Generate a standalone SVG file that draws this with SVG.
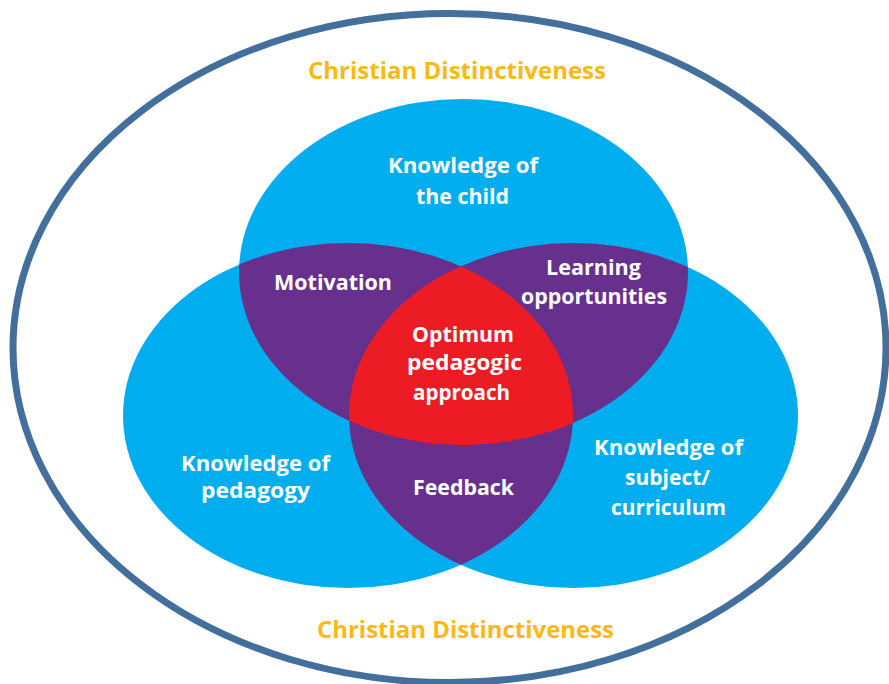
<svg xmlns="http://www.w3.org/2000/svg" width="889" height="684" viewBox="0 0 889 684">
  <style>
    .circle { fill: #00ADEE; }
    .lens { fill: #67308D; }
    .core { fill: #ED1C24; }
    .lbl { font-family: "Open Sans", "Liberation Sans", sans-serif; font-weight: 700; font-size: 22px; fill: #FFFFFF; text-anchor: middle; }
    .gold { font-family: "Open Sans", "Liberation Sans", sans-serif; font-weight: 700; font-size: 23.5px; fill: #FDB813; text-anchor: middle; }
  </style>
  <defs>
    <clipPath id="clipT"><ellipse cx="463.5" cy="272" rx="224.5" ry="173"/></clipPath>
    <clipPath id="clipL"><ellipse cx="348" cy="415.5" rx="225" ry="172.5"/></clipPath>
    <clipPath id="clipR"><ellipse cx="573.5" cy="415.5" rx="224.5" ry="172.5"/></clipPath>
  </defs>
  <rect width="889" height="684" fill="#FFFFFF"/>

  <g id="outer">
    <ellipse cx="449.5" cy="348" rx="436.5" ry="334.5" fill="none" stroke="#436F9C" stroke-width="7"/>
    <text class="gold" x="457" y="79" textLength="298" lengthAdjust="spacingAndGlyphs">Christian Distinctiveness</text>
    <text class="gold" x="465.5" y="638" textLength="297" lengthAdjust="spacingAndGlyphs">Christian Distinctiveness</text>
  </g>

  <g id="child">
    <ellipse class="circle" cx="463.5" cy="272" rx="224.5" ry="173"/>
  </g>
  <g id="pedagogy">
    <ellipse class="circle" cx="348" cy="415.5" rx="225" ry="172.5"/>
  </g>
  <g id="subject">
    <ellipse class="circle" cx="573.5" cy="415.5" rx="224.5" ry="172.5"/>
  </g>

  <g id="motivation">
    <g clip-path="url(#clipT)"><ellipse class="lens" cx="348" cy="415.5" rx="225" ry="172.5"/></g>
  </g>
  <g id="learning">
    <g clip-path="url(#clipT)"><ellipse class="lens" cx="573.5" cy="415.5" rx="224.5" ry="172.5"/></g>
  </g>
  <g id="feedback">
    <g clip-path="url(#clipL)"><ellipse class="lens" cx="573.5" cy="415.5" rx="224.5" ry="172.5"/></g>
  </g>
  <g id="optimum">
    <g clip-path="url(#clipR)"><g clip-path="url(#clipL)"><ellipse class="core" cx="463.5" cy="272" rx="224.5" ry="173"/></g></g>
  </g>

  <g id="labels">
    <text class="lbl" x="463" y="173" textLength="150" lengthAdjust="spacingAndGlyphs">Knowledge of</text>
    <text class="lbl" x="462.5" y="204" textLength="93" lengthAdjust="spacingAndGlyphs">the child</text>
    <text class="lbl" x="333" y="290" textLength="118" lengthAdjust="spacingAndGlyphs">Motivation</text>
    <text class="lbl" x="593.5" y="275" textLength="95" lengthAdjust="spacingAndGlyphs">Learning</text>
    <text class="lbl" x="594" y="304" textLength="146" lengthAdjust="spacingAndGlyphs">opportunities</text>
    <text class="lbl" x="463" y="341.5" textLength="102" lengthAdjust="spacingAndGlyphs">Optimum</text>
    <text class="lbl" x="464.5" y="370" textLength="115" lengthAdjust="spacingAndGlyphs">pedagogic</text>
    <text class="lbl" x="461.5" y="400" textLength="97" lengthAdjust="spacingAndGlyphs">approach</text>
    <text class="lbl" x="463.5" y="495" textLength="101" lengthAdjust="spacingAndGlyphs">Feedback</text>
    <text class="lbl" x="255.5" y="470.5" textLength="149" lengthAdjust="spacingAndGlyphs">Knowledge of</text>
    <text class="lbl" x="255.5" y="498" textLength="109" lengthAdjust="spacingAndGlyphs">pedagogy</text>
    <text class="lbl" x="668.5" y="455" textLength="149" lengthAdjust="spacingAndGlyphs">Knowledge of</text>
    <text class="lbl" x="667.5" y="485" textLength="85" lengthAdjust="spacingAndGlyphs">subject/</text>
    <text class="lbl" x="668.5" y="515" textLength="115" lengthAdjust="spacingAndGlyphs">curriculum</text>
  </g>
</svg>
